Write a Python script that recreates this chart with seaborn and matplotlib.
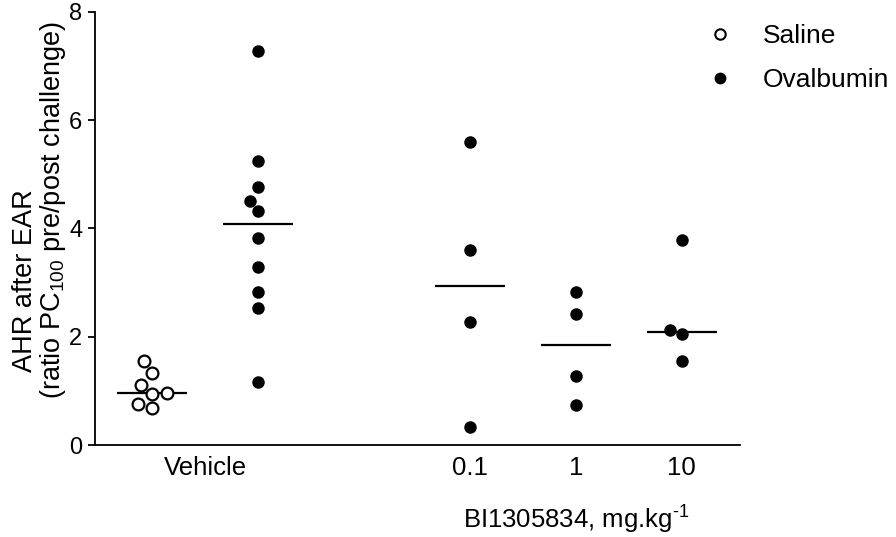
import numpy as np
import pandas as pd
import matplotlib.pyplot as plt
import matplotlib.transforms as mtransforms
from matplotlib.lines import Line2D
import seaborn as sns

# AHR after EAR values
saline = [1.56, 1.34, 1.11, 0.96, 0.94, 0.76, 0.68]
ova_vehicle = [7.27, 5.25, 4.76, 4.51, 4.33, 3.82, 3.28, 2.82, 2.54, 1.17]
ova_01 = [5.60, 3.60, 2.27, 0.34]
ova_1 = [2.82, 2.43, 1.28, 0.75]
ova_10 = [3.78, 2.13, 2.05, 1.56]

# category slots on the x axis ("gap" is left empty)
groups = ["Saline", "Vehicle", "gap", "0.1", "1", "10"]
tick_labels = ["Vehicle", "0.1", "1", "10"]
yticks = [0, 2, 4, 6, 8]
legend_labels = ["Saline", "Ovalbumin"]

sns.set_theme(style="ticks")
plt.rcParams["font.family"] = ["Liberation Sans", "DejaVu Sans"]
plt.rcParams["mathtext.default"] = "regular"
plt.rcParams["text.color"] = "black"

series = [("Saline", saline), ("Vehicle", ova_vehicle), ("0.1", ova_01),
          ("1", ova_1), ("10", ova_10)]
df = pd.DataFrame({
    "group": [g for g, vals in series for _ in vals],
    "value": [v for _, vals in series for v in vals],
})
df["challenge"] = np.where(df["group"] == "Saline", "Saline", "Ovalbumin")

fig = plt.figure(figsize=(8.96, 5.37), dpi=100)
ax = fig.add_axes([0.106, 0.171, 0.720, 0.807])

# median lines only
sns.boxplot(data=df, x="group", y="value", order=groups, width=0.66,
            showfliers=False, color="white", linecolor="black",
            boxprops={"visible": False}, whiskerprops={"visible": False},
            capprops={"visible": False},
            medianprops={"color": "black", "linewidth": 1.6}, ax=ax)

sns.swarmplot(data=df[df["challenge"] == "Saline"], x="group", y="value",
              order=groups, color="white", edgecolor="black", linewidth=1.6,
              size=8.5, ax=ax)
sns.swarmplot(data=df[df["challenge"] == "Ovalbumin"], x="group", y="value",
              order=groups, color="black", edgecolor="black", linewidth=0,
              size=9, ax=ax)

ax.set_xlim(-0.54, 5.55)
ax.set_ylim(yticks[0], yticks[-1])
ax.set_yticks(yticks)

tick_pos = [(groups.index("Saline") + groups.index("Vehicle")) / 2,
            groups.index("0.1"), groups.index("1"), groups.index("10")]
ax.set_xticks(tick_pos)
ax.set_xticklabels(tick_labels)

sns.despine(ax=ax)
for side in ["left", "bottom"]:
    ax.spines[side].set_color("black")
    ax.spines[side].set_linewidth(1.3)
ax.tick_params(axis="x", length=0, pad=8, labelsize=18.5, colors="black")
ax.tick_params(axis="y", length=5, width=1.3, pad=4, labelsize=17,
               colors="black")

ax.set_ylabel("")
ax.set_xlabel("BI1305834, mg.kg$^{\u20101}$", fontsize=18.5, color="black")
blend = mtransforms.blended_transform_factory(ax.transData, ax.transAxes)
ax.xaxis.set_label_coords(groups.index("1"), -0.135, transform=blend)

fig.text(0.028, 0.478, "AHR after EAR", rotation=90, ha="center",
         va="center", fontsize=19.5)
fig.text(0.059, 0.609, "(ratio PC$_{100}$ pre/post challenge)", rotation=90,
         ha="center", va="center", fontsize=19.5)

handles = [
    Line2D([], [], marker="o", ls="none", mfc="white", mec="black",
           mew=1.5, ms=7.5),
    Line2D([], [], marker="o", ls="none", mfc="black", mec="black",
           mew=0, ms=8.5),
]
fig.legend(handles, legend_labels, loc="upper left",
           bbox_to_anchor=(0.789, 0.955), frameon=False, handlelength=1.0,
           handletextpad=1.1, borderpad=0, borderaxespad=0, fontsize=19,
           labelspacing=0.75)

fig.savefig("out.png", dpi=100)
